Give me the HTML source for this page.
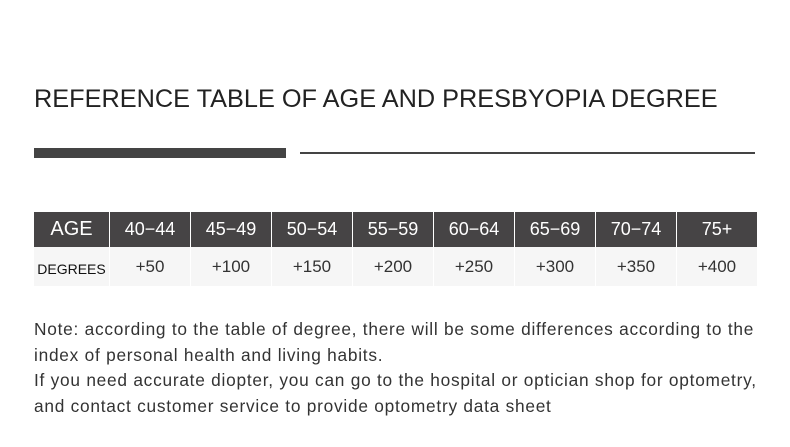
<!DOCTYPE html>
<html><head><style>
body{margin:0;width:790px;height:447px;background:#fff;position:relative;overflow:hidden;font-family:"Liberation Sans",sans-serif;color:#222}
.t{position:absolute;left:34px;top:85px;font-size:25.3px;white-space:nowrap}
.bar{position:absolute;left:34px;top:148px;width:252px;height:10px;background:#444}
.ln{position:absolute;left:300px;top:152px;width:455px;height:2px;background:#444}
table{position:absolute;left:34px;top:212px;border-collapse:collapse}
td{width:80px;text-align:center;padding:0;border:1px solid #fff;border-top:0;border-bottom:0}
tr.h td{background:#464445;color:#fff;height:35px;font-size:18px}
tr.d td{background:#f6f6f6;color:#333;height:35px;font-size:17px}
td:first-child{border-left:0;width:75px}
.n{position:absolute;left:34px;top:317px;font-size:17.3px;letter-spacing:0.75px;line-height:25.5px;color:#333;white-space:nowrap}
</style></head><body>
<div class="t">REFERENCE TABLE OF AGE AND PRESBYOPIA DEGREE</div>
<div class="bar"></div><div class="ln"></div>
<table>
<tr class="h"><td style="font-size:20px">AGE</td><td>40−44</td><td>45−49</td><td>50−54</td><td>55−59</td><td>60−64</td><td>65−69</td><td>70−74</td><td>75+</td></tr>
<tr class="d"><td style="font-size:14px;color:#111;padding-top:4px">DEGREES</td><td>+50</td><td>+100</td><td>+150</td><td>+200</td><td>+250</td><td>+300</td><td>+350</td><td>+400</td></tr>
</table>
<div class="n">Note: according to the table of degree, there will be some differences according to the<br>index of personal health and living habits.<br>If you need accurate diopter, you can go to the hospital or optician shop for optometry,<br>and contact customer service to provide optometry data sheet</div>
</body></html>
